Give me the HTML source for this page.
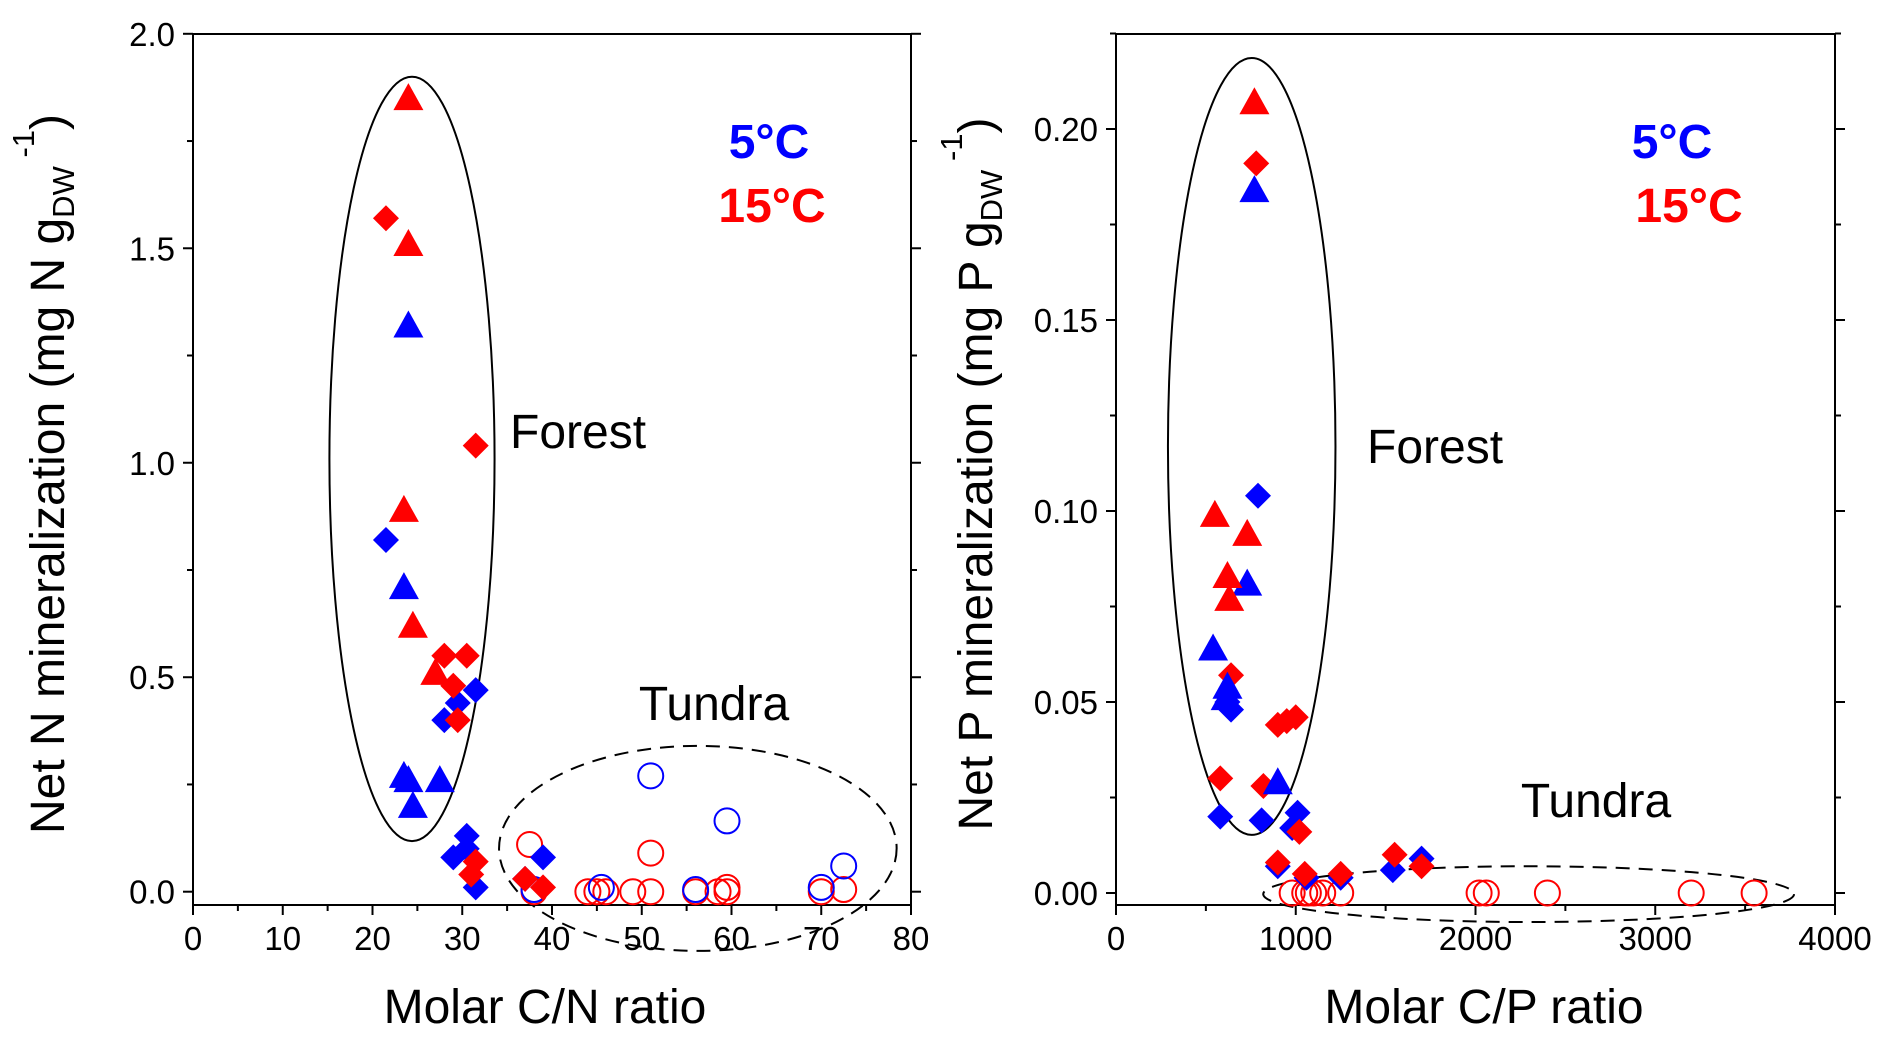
<!DOCTYPE html>
<html><head><meta charset="utf-8"><style>
body{margin:0;background:#fff;}
svg{display:block;font-family:"Liberation Sans",Arial,sans-serif;}
</style></head><body>
<svg id="fig" width="1892" height="1044" viewBox="0 0 1892 1044"></svg>
<script>
// ---- Panel A data (C/N vs Net N) ----
const nRedTriX=[24,24,23.5,24.5,27];
const nRedTriY=[1.85,1.51,0.89,0.62,0.51];
const nBlueTriX=[24,23.5,23.5,24,27.5,24.5];
const nBlueTriY=[1.32,0.71,0.27,0.26,0.26,0.2];
const nRedDiaX=[21.5,31.5,28,30.5,29,29.5,31.5,31,37,39];
const nRedDiaY=[1.57,1.04,0.55,0.55,0.48,0.40,0.07,0.04,0.03,0.01];
const nBlueDiaX=[21.5,31.5,29.5,28,30.5,30.5,29,31.5,39,37];
const nBlueDiaY=[0.82,0.47,0.44,0.40,0.13,0.10,0.08,0.01,0.08,0.03];
const nBlueCircX=[51,59.5,72.5,38,45.5,70,56];
const nBlueCircY=[0.27,0.165,0.06,0.005,0.01,0.01,0.005];
const nRedCircX=[37.5,51,44,45,46,49,51,56,58.5,59.5,59.5,70,72.5,38];
const nRedCircY=[0.11,0.09,0,0,0,0,0,0,0,0.01,0,0,0.005,0];
const nXTicks=[0,10,20,30,40,50,60,70,80];
const nYTicks=[0,0.5,1.0,1.5,2.0];
const nYTickLabels=["0.0","0.5","1.0","1.5","2.0"];
// ---- Panel B data (C/P vs Net P) ----
const pRedTriX=[770,550,730,620,630];
const pRedTriY=[0.207,0.099,0.094,0.083,0.077];
const pBlueTriX=[770,730,540,620,610,900];
const pBlueTriY=[0.184,0.081,0.064,0.054,0.051,0.029];
const pRedDiaX=[780,640,580,820,900,950,1000,1020,900,1050,1250,1550,1700];
const pRedDiaY=[0.191,0.057,0.030,0.028,0.044,0.045,0.046,0.016,0.008,0.005,0.005,0.010,0.007];
const pBlueDiaX=[790,640,620,580,810,980,1010,900,1060,1250,1540,1700];
const pBlueDiaY=[0.104,0.048,0.050,0.020,0.019,0.017,0.021,0.007,0.004,0.004,0.006,0.009];
const pRedCircX=[980,1050,1070,1100,1150,1250,2020,2060,2400,3200,3550];
const pRedCircY=[0,0,0,0,0,0,0,0,0,0,0];
const pXTicks=[0,1000,2000,3000,4000];
const pYTicks=[0,0.05,0.10,0.15,0.20];
const pYTickLabels=["0.00","0.05","0.10","0.15","0.20"];

const NS="http://www.w3.org/2000/svg";
const svg=document.getElementById('fig');
function mk(tag,attrs,parent){const e=document.createElementNS(NS,tag);for(const k in attrs)e.setAttribute(k,attrs[k]);(parent||svg).appendChild(e);return e;}
const RED="#ff0000",BLUE="#0000ff";

function panel(cfg){
  const g=mk('g',{});
  
  
  const sx=v=>cfg.x0+(v-cfg.xmin)/(cfg.xmax-cfg.xmin)*(cfg.x1-cfg.x0);
  const sy=v=>cfg.yz+(v-0)*(cfg.ytop-cfg.yz)/cfg.yref;
  const bottom=cfg.frameBottom, top=cfg.frameTop;
  const fr=mk('rect',{x:cfg.x0,y:top,width:cfg.x1-cfg.x0,height:bottom-top,fill:'none',stroke:'#000','stroke-width':2},g);
  
  
  for(let v=cfg.xmin; v<=cfg.xmax+1e-9; v+=cfg.xminor){
    const major=Math.abs(v/cfg.xmajor-Math.round(v/cfg.xmajor))<1e-6;
    const t=mk('line',{x1:sx(v),x2:sx(v),y1:bottom,y2:bottom+(major?10:6),stroke:'#000','stroke-width':2},g);
    
    
  }
  cfg.xticks.forEach(v=>{
    const t=mk('text',{x:sx(v),y:bottom+45,'font-size':33,'text-anchor':'middle',fill:'#000'},g);
    t.textContent=String(v);
    
    
  });
  for(let v=0; sy(v)>=top-1; v+=cfg.yminor){
    const major=Math.abs(v/cfg.ymajor-Math.round(v/cfg.ymajor))<1e-6;
    const L=major?10:6;
    const t1=mk('line',{x1:cfg.x0-L,x2:cfg.x0,y1:sy(v),y2:sy(v),stroke:'#000','stroke-width':2},g);
    
    
    const t2=mk('line',{x1:cfg.x1,x2:cfg.x1+L,y1:sy(v),y2:sy(v),stroke:'#000','stroke-width':2},g);
    
    
  }
  cfg.yticks.forEach((v,i)=>{
    const t=mk('text',{x:cfg.x0-18,y:sy(v)+12,'font-size':33,'text-anchor':'end',fill:'#000'},g);
    t.textContent=cfg.ylabels[i];
    
    
  });
  cfg.ellipses.forEach(e=>{
    const el=mk('ellipse',{cx:(sx(e[0])+sx(e[1]))/2,cy:(sy(e[2])+sy(e[3]))/2,rx:Math.abs(sx(e[1])-sx(e[0]))/2,ry:Math.abs(sy(e[3])-sy(e[2]))/2,fill:'none',stroke:'#000','stroke-width':2,'stroke-dasharray':e[4]?'14 9':'none'},g);
    
    
  });
  function tri(xs,ys,c,n){xs.forEach((x,i)=>{const X=sx(x),Y=sy(ys[i]);
    const p=mk('polygon',{points:`${X-15},${Y+12} ${X+15},${Y+12} ${X},${Y-15}`,fill:c},g);
    
    });}
  function dia(xs,ys,c,n){xs.forEach((x,i)=>{const X=sx(x),Y=sy(ys[i]);
    const p=mk('polygon',{points:`${X},${Y-13} ${X+13},${Y} ${X},${Y+13} ${X-13},${Y}`,fill:c},g);
    
    });}
  function circ(xs,ys,c,n){xs.forEach((x,i)=>{
    const p=mk('circle',{cx:sx(x),cy:sy(ys[i]),r:12.5,fill:'none',stroke:c,'stroke-width':2},g);
    
    });}
  cfg.series.forEach(s=>{({tri,dia,circ})[s[0]](s[1],s[2],s[3],s[4]);});
  return g;
}

panel({name:'cn-panel',x0:193,x1:911,xmin:0,xmax:80,xmajor:10,xminor:5,yz:891.7,ytop:33.8,yref:2.0,
  frameTop:34,frameBottom:905,ymajor:0.5,yminor:0.25,xticks:nXTicks,yticks:nYTicks,ylabels:nYTickLabels,
  ellipses:[[15.2,33.6,1.90,0.118,false,'forest-ellipse'],[34.1,78.4,0.34,-0.138,true,'tundra-ellipse']],
  series:[['circ',nRedCircX,nRedCircY,RED,'tundra-15c-point'],['circ',nBlueCircX,nBlueCircY,BLUE,'tundra-5c-point'],
    ['dia',nBlueDiaX,nBlueDiaY,BLUE,'forest-5c-diamond'],['dia',nRedDiaX,nRedDiaY,RED,'forest-15c-diamond'],
    ['tri',nBlueTriX,nBlueTriY,BLUE,'forest-5c-triangle'],['tri',nRedTriX,nRedTriY,RED,'forest-15c-triangle']]});
panel({name:'cp-panel',x0:1116,x1:1835,xmin:0,xmax:4000,xmajor:1000,xminor:500,yz:893,ytop:129,yref:0.20,
  frameTop:34,frameBottom:905,ymajor:0.05,yminor:0.025,xticks:pXTicks,yticks:pYTicks,ylabels:pYTickLabels,
  ellipses:[[289,1221,0.2186,0.0152,false,'forest-ellipse'],[819,3772,0.007,-0.0076,true,'tundra-ellipse']],
  series:[['circ',pRedCircX,pRedCircY,RED,'tundra-15c-point'],
    ['dia',pBlueDiaX,pBlueDiaY,BLUE,'forest-5c-diamond'],['dia',pRedDiaX,pRedDiaY,RED,'forest-15c-diamond'],
    ['tri',pBlueTriX,pBlueTriY,BLUE,'forest-5c-triangle'],['tri',pRedTriX,pRedTriY,RED,'forest-15c-triangle']]});
</script>
<svg width="1892" height="1044" style="position:absolute;left:0;top:0;font-family:'Liberation Sans',Arial,sans-serif">
  <text x="545" y="1023" font-size="48" text-anchor="middle">Molar C/N ratio</text>
  <text x="1484" y="1023" font-size="48" text-anchor="middle">Molar C/P ratio</text>
  <text transform="translate(64,474) rotate(-90)" font-size="48" text-anchor="middle">Net N mineralization (mg N g<tspan font-size="31" dy="10">DW</tspan><tspan font-size="31" dy="-40"> -1</tspan><tspan dy="30">)</tspan></text>
  <text transform="translate(992,474) rotate(-90)" font-size="48" text-anchor="middle">Net P mineralization (mg P g<tspan font-size="31" dy="10">DW</tspan><tspan font-size="31" dy="-40"> -1</tspan><tspan dy="30">)</tspan></text>
  <text x="769" y="158" font-size="48" font-weight="bold" fill="#0000ff" text-anchor="middle">5°C</text>
  <text x="772" y="222" font-size="48" font-weight="bold" fill="#ff0000" text-anchor="middle">15°C</text>
  <text x="1672" y="158" font-size="48" font-weight="bold" fill="#0000ff" text-anchor="middle">5°C</text>
  <text x="1689" y="222" font-size="48" font-weight="bold" fill="#ff0000" text-anchor="middle">15°C</text>
  <text x="510" y="448" font-size="48">Forest</text>
  <text x="714" y="720" font-size="48" text-anchor="middle">Tundra</text>
  <text x="1367" y="463" font-size="48">Forest</text>
  <text x="1596" y="817" font-size="48" text-anchor="middle">Tundra</text>
</svg>
</body></html>
